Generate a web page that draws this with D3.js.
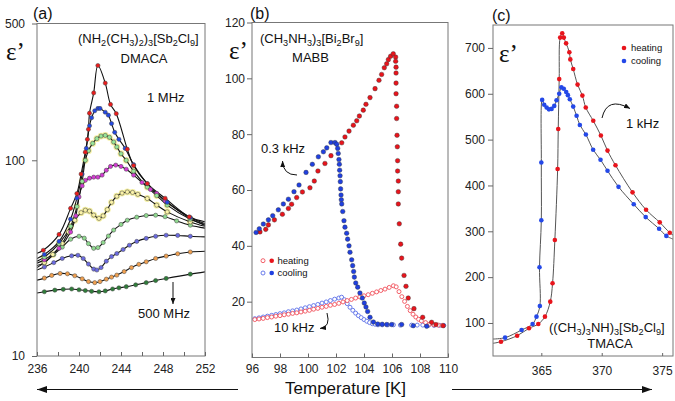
<!DOCTYPE html>
<html><head><meta charset="utf-8">
<script src="https://cdn.jsdelivr.net/npm/d3@7"></script>
<style>
html,body{margin:0;padding:0;background:#fff;}
svg{display:block;font-family:"Liberation Sans",Arial,sans-serif;}
</style></head><body>
<svg id="c" width="675" height="401"></svg>
<script>
// ---------------- DATA ----------------
// Panel (a) DMACA, eps' vs T [K], frequencies 1 MHz (top) ... 500 MHz (bottom)
const aTicksMinor = [236,238,240,242,244,246,248,250,252];
const aTicksLabel = [236,240,244,248,252];
const aTicksY = [10,100,500];
const aRed = [[236,33.5],[236.6,34.7],[238.1,41.8],[239.2,56.8],[239.8,67.6],[240.2,85],[240.6,110],[240.8,128],[240.9,144],[241.0,174],[241.4,221],[241.8,305],[242.5,248],[243.0,193],[243.55,173],[244.6,114],[245.2,94],[246.5,76],[248.2,64],[250.5,51.4],[252,48.5]];
const aBlue = [[236,31.5],[236.7,33],[238.1,38.5],[239.2,50],[239.8,64],[240.3,85],[240.7,115],[241.0,150],[241.2,165],[241.5,179],[241.8,184],[242.0,184],[242.5,176],[242.8,170],[243.1,154],[243.4,139],[243.8,128],[244.4,115],[245.2,95],[246.5,76],[248.4,61],[250.6,51],[252,47.5]];
const aGreen = [[236,30.5],[236.7,32],[238.1,37.5],[239.2,46],[239.8,58],[240.3,78],[240.6,100],[240.9,112],[241.3,122],[241.7,129],[242.1,133],[242.5,134],[242.9,131],[243.3,124],[243.6,117],[244.0,108],[244.5,100],[245.2,88],[246.5,73],[247.4,66],[248.4,59],[250.6,50],[252,47]];
const aMagenta = [[236,29.8],[236.7,31],[238.1,35.5],[239.2,43],[239.7,52],[240.0,65],[240.3,74],[240.6,79],[241.0,81],[241.4,82],[241.8,82],[242.2,84],[242.6,89],[243.0,93],[243.5,94.5],[244.0,93],[244.5,90],[245.2,84],[246.0,77],[246.8,71],[247.4,67.7],[248.2,62],[250.6,50.4],[252,46.5]];
const aYellow = [[236,29],[236.7,30],[237.5,33],[238.4,37.6],[239.0,43],[239.6,49.4],[240.2,54],[240.6,55.6],[241.0,55],[241.4,52.5],[241.9,50.5],[242.3,52],[242.7,56],[243.1,61],[243.6,65.5],[244.1,68],[244.6,68.9],[245.1,68.5],[245.6,67],[246.5,63.8],[247.4,59],[248.4,54.5],[250.6,48.4],[252,46]];
const aLightGreen = [[236,28.3],[236.7,30],[237.6,33],[238.4,36],[239.2,39.5],[240.0,40.9],[240.5,40],[240.9,37.5],[241.4,35.5],[241.8,35.8],[242.3,38],[242.8,41],[243.3,44],[244.0,47],[244.6,49.4],[245.5,51.2],[246.4,52.2],[247.3,52.4],[248.2,51.5],[249.3,49],[250.6,46.6],[252,45]];
const aPurple = [[236,27.5],[236.7,28.5],[237.6,30],[238.4,31.5],[239.3,32.5],[239.9,32.7],[240.4,31.5],[240.9,29.5],[241.4,27.8],[241.7,27.5],[242.1,28.3],[242.6,30.5],[243.1,32.2],[243.6,33.4],[244.2,35],[244.8,36.8],[245.5,38.5],[246.4,39.9],[247.3,40.9],[248.3,41.4],[249.4,41.3],[250.6,40.9],[252,40.6]];
const aOrange = [[236,24.4],[236.7,25],[237.4,25.8],[238.2,26.4],[238.9,26.3],[239.6,25.7],[240.3,24.8],[240.9,24],[241.5,23.7],[242.0,24],[242.6,24.7],[243.1,25.3],[243.6,25.9],[244.3,27],[245.0,28.3],[245.7,29.4],[246.4,30.3],[247.3,31.5],[248.3,32.4],[249.4,33.3],[250.6,34],[252,34.3]];
const aDarkGreen = [[236,21],[236.7,21.3],[237.7,21.7],[238.5,21.9],[239.3,22],[240.0,21.8],[240.6,21.6],[241.2,21.4],[241.9,21.3],[242.5,21.5],[243.2,22],[243.8,22.3],[244.5,22.6],[245.4,23.1],[246.4,23.7],[247.3,24.3],[248.3,24.9],[250.6,26.2],[252,26.9]];

// Panel (b) MABB
const bTicksX = [96,98,100,102,104,106,108,110];
const bTicksY = [20,40,60,80,100,120];
const bHeat03 = [[96.57,45],[96.98,45.9],[97.17,47.5],[97.6,49.3],[98.17,51.3],[98.6,53.4],[98.83,54.9],[99.19,57.3],[99.6,59.3],[100.14,60.8],[100.45,63.2],[100.71,66.8],[101.21,69.5],[101.64,72.3],[102.41,76.9],[102.64,79],[102.93,81.1],[103.24,83.2],[103.48,84.8],[103.67,86.5],[103.95,88.6],[104.14,90.7],[104.43,93.1],[104.79,96.3],[105.07,99.3],[105.26,101.4],[105.45,103.8],[105.62,105.2],[105.74,106.7],[105.9,107.9],[106.09,108.8],[106.26,107.6],[106.26,106.1],[106.29,104],[106.29,101.9],[106.29,98.3],[106.29,94.5],[106.33,90],[106.33,85.6],[106.36,79.6],[106.38,75.5],[106.4,70.5],[106.4,66.8],[106.45,63.2],[106.45,59.4],[106.45,55],[106.52,47.9],[106.62,40.6],[106.69,35.6],[106.86,29.4],[107,25.5],[107.16,21.3],[107.57,17.5],[108.19,14.4],[108.83,12.6],[109.14,11.8],[109.66,11.4]];
const bCool03 = [[96.29,44.8],[96.52,46.1],[96.81,47.8],[97.17,49.3],[97.48,50.8],[97.88,52.9],[98.24,55],[98.6,56.7],[99,59.4],[99.36,61.8],[99.86,66.3],[100.31,69.2],[100.74,71.9],[101.1,73.7],[101.34,75.1],[101.64,77],[101.93,77],[102.05,76.4],[102.12,74.9],[102.16,73.1],[102.21,70.9],[102.24,69.2],[102.26,67.1],[102.29,65.1],[102.31,63],[102.33,60.4],[102.36,58.2],[102.38,56.5],[102.41,55],[102.48,52.3],[102.57,49],[102.64,46.7],[102.76,44.5],[102.83,42.4],[102.93,40],[103,37.7],[103.12,35],[103.19,32.9],[103.26,30.8],[103.31,28.8],[103.41,26.7],[103.55,25.2],[103.71,23.1],[103.88,21.3],[104.02,19.5],[104.14,18.1],[104.26,16.5],[104.43,14.4],[104.67,12.7],[104.98,12],[105.3,11.9],[105.62,11.8],[105.98,11.8],[106.69,11.8],[107.52,11.4],[108.48,11.2]];
const bHeat10k = [[96.2,13.6],[96.5,13.8],[96.8,14.0],[97.1,14.3],[97.4,14.5],[97.7,14.8],[98.0,15.0],[98.3,15.3],[98.6,15.5],[98.9,15.8],[99.2,16.0],[99.5,16.3],[99.8,16.6],[100.1,16.9],[100.4,17.3],[100.7,17.6],[101.0,18.0],[101.3,18.3],[101.6,18.7],[101.9,19.0],[102.2,19.4],[102.5,19.9],[102.8,20.4],[103.1,20.8],[103.4,21.3],[103.7,21.7],[104.0,22.1],[104.3,22.5],[104.6,23.0],[104.9,23.5],[105.2,24.0],[105.5,24.5],[105.8,25.1],[106.1,25.7],[106.3,25.3],[106.5,23.6],[106.7,21.8],[106.9,20.1],[107.1,18.3],[107.3,16.8],[107.5,15.5],[107.7,14.5],[107.9,13.7],[108.1,13.1],[108.4,12.5],[108.7,12.0],[109.0,11.7],[109.3,11.6],[109.6,11.5]];
const bCool10k = [[96.2,13.9],[96.5,14.2],[96.8,14.5],[97.1,14.8],[97.4,15.1],[97.7,15.4],[98.0,15.7],[98.3,16.0],[98.6,16.4],[98.9,16.7],[99.2,17.0],[99.5,17.4],[99.8,17.8],[100.1,18.2],[100.4,18.6],[100.7,19.0],[101.0,19.5],[101.3,19.9],[101.6,20.4],[101.9,20.9],[102.2,21.3],[102.4,21.6],[102.6,20.7],[102.8,19.3],[103.0,18.0],[103.2,16.9],[103.4,15.9],[103.6,15.0],[103.8,14.3],[104.0,13.6],[104.2,13.0],[104.4,12.5],[104.6,12.1],[104.8,11.9],[105.0,11.7],[105.3,11.7],[105.7,11.7],[106.1,11.7],[106.6,11.6],[107.4,11.6],[107.8,11.6],[108.2,11.6],[108.6,11.5],[109.0,11.5],[109.4,11.5],[109.7,11.5]];

// Panel (c) TMACA, 1 kHz
const cTicksX = [365,370,375];
const cTicksY = [100,200,300,400,500,600,700];
const cHeat = [[361,55.7],[361.66,59.2],[363.0,72.3],[363.98,88.4],[364.75,97.8],[365.3,113.8],[365.74,146.5],[365.93,186.6],[366.12,281],[366.35,436],[366.4,523],[366.48,632],[366.56,722.5],[366.73,732],[366.86,722.5],[367.05,710],[367.32,690.6],[367.4,675],[367.64,654],[368.0,620],[368.4,596],[368.68,570],[369.3,541],[369.93,509],[370.48,476],[371.14,444],[372.55,385],[373.67,347],[374.8,319.5],[375.63,297],[375.9,292]];
const cCool = [[361,65],[362.0,68],[363.37,84.7],[364.28,97.8],[364.6,113.8],[364.88,137],[364.85,221.5],[365.0,324],[365.0,450],[365.07,586.6],[365.24,576],[365.44,570],[365.63,566],[365.85,567],[366.07,573.5],[366.26,586],[366.48,600],[366.66,614],[366.86,611],[367.06,604],[367.2,597],[367.36,588],[367.64,572],[367.92,552],[368.19,532],[368.69,511],[369.29,478],[369.9,456],[370.48,432],[371.39,397],[372.65,359],[373.64,331],[374.75,305.5],[375.35,290],[375.9,283]];

// ---------------- DRAWING ----------------
const svg = d3.select("#c");
const defs = svg.append("defs");
function mkArrow(id, w, h){
  defs.append("marker").attr("id",id).attr("viewBox",`0 0 ${w} ${h}`)
    .attr("refX",w).attr("refY",h/2).attr("markerWidth",w).attr("markerHeight",h)
    .attr("markerUnits","userSpaceOnUse").attr("orient","auto")
    .append("path").attr("d",`M0,0L${w},${h/2}L0,${h}Z`).attr("fill","#111");
}
mkArrow("ahS",6,5); mkArrow("ahB",10,7);

function clip(id,x0,y0,x1,y1){
  defs.append("clipPath").attr("id",id).append("rect")
   .attr("x",x0).attr("y",y0).attr("width",x1-x0).attr("height",y1-y0);
}
function frameRect(x0,y0,x1,y1){
  svg.append("rect").attr("x",x0).attr("y",y0).attr("width",x1-x0).attr("height",y1-y0)
    .attr("fill","none").attr("stroke","#777").attr("stroke-width",1);
}
function styleAxis(g){
  g.attr("font-family",null).attr("font-size",12);
  g.select(".domain").remove();
  g.selectAll(".tick line").attr("stroke","#666");
  g.selectAll(".tick text").attr("fill","#222");
}
function txt(x,y,s,size,anchor,family){
  return svg.append("text").attr("x",x).attr("y",y).attr("font-size",size)
   .attr("text-anchor",anchor||"start").attr("fill","#111")
   .attr("font-family",family||null).text(s);
}
// chemical formula with subscripts: digits after letters/brackets become subscripts
function chem(x,y,parts,size){
  const t = svg.append("text").attr("x",x).attr("y",y).attr("font-size",size).attr("fill","#111");
  let sub=false;
  parts.forEach(p=>{
    const isSub = /^[0-9]$/.test(p);
    const ts = t.append("tspan").text(p);
    if(isSub){ ts.attr("font-size",size*0.7).attr("dy", sub?0:3); sub=true; }
    else { if(sub){ ts.attr("dy",-3);} sub=false; }
  });
  return t;
}
const eps = "\u03B5\u2019";

// ===== Panel (a) =====
const xA = d3.scaleLinear([236,252],[37,205]);
const yA = d3.scaleLog([10,500],[356,23.5]);
clip("clA",37,23.5,205,356);
const aSeries = [
  {d:aDarkGreen, fill:"#2f7d3a"},
  {d:aOrange, fill:"#f0a050"},
  {d:aPurple, fill:"#6b6be0"},
  {d:aLightGreen, fill:"#8fd88f"},
  {d:aYellow, fill:"#fbf3a8", halo:true},
  {d:aMagenta, fill:"#d23cd2"},
  {d:aGreen, fill:"#98e698", halo:true},
  {d:aBlue, fill:"#2448e0"},
  {d:aRed, fill:"#e81c1c"}
];
const lineA = d3.line().x(d=>xA(d[0])).y(d=>yA(d[1])).curve(d3.curveCatmullRom.alpha(0.5));
const gA = svg.append("g").attr("clip-path","url(#clA)");
aSeries.forEach(s=>{
  if(s.halo){
    gA.append("g").selectAll("circle").data(s.d.slice(1,-1)).join("circle")
      .attr("cx",d=>xA(d[0])).attr("cy",d=>yA(d[1])).attr("r",3.4).attr("fill","#f3ec8c").attr("opacity",0.8);
  }
});
aSeries.forEach(s=>{
  gA.append("path").attr("d",lineA(s.d)).attr("fill","none").attr("stroke","#111").attr("stroke-width",1.1);
});
aSeries.forEach(s=>{
  gA.append("g").selectAll("circle").data(s.d.slice(1,-1)).join("circle")
    .attr("cx",d=>xA(d[0])).attr("cy",d=>yA(d[1])).attr("r",2.1)
    .attr("fill",s.fill).attr("stroke","#444").attr("stroke-width",0.5);
});
frameRect(37,23.5,205,356);
styleAxis(svg.append("g").attr("transform","translate(0,356)")
  .call(d3.axisBottom(xA).tickValues(aTicksMinor).tickFormat(d=>aTicksLabel.includes(d)?d:"").tickSizeInner(-4).tickSizeOuter(0).tickPadding(8)));
styleAxis(svg.append("g").attr("transform","translate(37,0)")
  .call(d3.axisLeft(yA).tickValues(aTicksY).tickFormat(d3.format("d")).tickSize(5).tickPadding(7)));
txt(33,19,"(a)",16);
txt(6,60,eps,25,"start","Liberation Serif");
chem(78,43,["(NH","2","(CH","3",")","2",")","3","[Sb","2","Cl","9","]"],13);
txt(144,63,"DMACA",13,"middle");
txt(147,102,"1 MHz",13);
txt(138,318,"500 MHz",13);
svg.append("path").attr("d","M173,282L173,304").attr("stroke","#111").attr("stroke-width",1).attr("marker-end","url(#ahS)");

// ===== Panel (b) =====
const xB = d3.scaleLinear([96,110],[252,448]);
const yB = d3.scaleLinear([0,120],[357.5,22.5]);
clip("clB",252,22.5,448,357.5);
const gB = svg.append("g").attr("clip-path","url(#clB)");
function openPts(data,col){
  gB.append("g").selectAll("circle").data(data).join("circle")
    .attr("cx",d=>xB(d[0])).attr("cy",d=>yB(d[1])).attr("r",2).attr("fill","#fff")
    .attr("stroke",col).attr("stroke-width",0.9);
}
function fillPts(data,col){
  gB.append("g").selectAll("circle").data(data).join("circle")
    .attr("cx",d=>xB(d[0])).attr("cy",d=>yB(d[1])).attr("r",2.3).attr("fill",col)
    .attr("stroke","#333").attr("stroke-width",0.4);
}
openPts(bCool10k,"#5a6ee8");
openPts(bHeat10k,"#f0505a");
fillPts(bHeat03,"#e8141c");
fillPts(bCool03,"#2040e0");
frameRect(252,22.5,448,357.5);
styleAxis(svg.append("g").attr("transform","translate(0,357.5)")
  .call(d3.axisBottom(xB).tickValues(bTicksX).tickSizeInner(-4).tickSizeOuter(0).tickPadding(7)));
styleAxis(svg.append("g").attr("transform","translate(252,0)")
  .call(d3.axisLeft(yB).tickValues(bTicksY).tickSize(5).tickPadding(2)));
txt(250,19,"(b)",16);
txt(229,59,eps,25,"start","Liberation Serif");
chem(260,43,["(CH","3","NH","3",")","3","[Bi","2","Br","9","]"],13);
txt(310.5,62,"MABB",13,"middle");
txt(261,153,"0.3 kHz",13);
txt(274,332,"10 kHz",13);
svg.append("path").attr("d","M297,175Q283,175 282.5,161").attr("fill","none").attr("stroke","#111").attr("stroke-width",1).attr("marker-end","url(#ahS)");
svg.append("path").attr("d","M327,313Q331,327 320,328.5").attr("fill","none").attr("stroke","#111").attr("stroke-width",1).attr("marker-end","url(#ahS)");
// legend (b)
const legB = [["heating","#f0505a","#e8141c"],["cooling","#5a6ee8","#2040e0"]];
legB.forEach((l,i)=>{
  const y = 260.7 + i*12.3;
  svg.append("circle").attr("cx",263).attr("cy",y).attr("r",2).attr("fill","#fff").attr("stroke",l[1]).attr("stroke-width",0.9);
  svg.append("circle").attr("cx",271.7).attr("cy",y).attr("r",2.3).attr("fill",l[2]);
  txt(277.5,y+3.4,l[0],9.5);
});

// ===== Panel (c) =====
const xC = d3.scaleLinear([361,375.9],[493,673]);
const yC = d3.scaleLinear([28,750],[356,25]);
clip("clC",493,25,673,356);
const gC = svg.append("g").attr("clip-path","url(#clC)");
const lineC = d3.line().x(d=>xC(d[0])).y(d=>yC(d[1])).curve(d3.curveCatmullRom.alpha(0.5));
[cHeat,cCool].forEach(d=>{
  gC.append("path").attr("d",lineC(d)).attr("fill","none").attr("stroke","#555").attr("stroke-width",1);
});
[[cCool,"#2448e8"],[cHeat,"#e8141c"]].forEach(([d,col])=>{
  gC.append("g").selectAll("circle").data(d.slice(1,-1)).join("circle")
   .attr("cx",p=>xC(p[0])).attr("cy",p=>yC(p[1])).attr("r",2.3).attr("fill",col);
});
frameRect(493,25,673,356);
styleAxis(svg.append("g").attr("transform","translate(0,356)")
  .call(d3.axisBottom(xC).tickValues(cTicksX).tickSizeInner(-3).tickSizeOuter(0).tickPadding(10)));
styleAxis(svg.append("g").attr("transform","translate(493,0)")
  .call(d3.axisLeft(yC).tickValues(cTicksY).tickSize(5).tickPadding(3)));
txt(492,21,"(c)",16);
txt(499,62,eps,25,"start","Liberation Serif");
const legC = [["heating","#e8141c"],["cooling","#2448e8"]];
legC.forEach((l,i)=>{
  const y = 48 + i*13;
  svg.append("circle").attr("cx",624).attr("cy",y).attr("r",2.3).attr("fill",l[1]);
  txt(631,y+3.4,l[0],9.5);
});
txt(626,128,"1 kHz",13);
svg.append("path").attr("d","M602,118Q607,96 630,108.5").attr("fill","none").attr("stroke","#111").attr("stroke-width",1).attr("marker-end","url(#ahS)");
chem(549,332,["((CH","3",")","3","NH)","3","[Sb","2","Cl","9","]"],13);
txt(610,348,"TMACA",13,"middle");

// ===== Bottom =====
txt(345.5,394,"Temperature [K]",17,"middle");
svg.append("path").attr("d","M238,389.5L37,389.5").attr("stroke","#111").attr("stroke-width",1).attr("marker-end","url(#ahB)");
svg.append("path").attr("d","M452,389.5L652,389.5").attr("stroke","#111").attr("stroke-width",1).attr("marker-end","url(#ahB)");
</script>
</body></html>
